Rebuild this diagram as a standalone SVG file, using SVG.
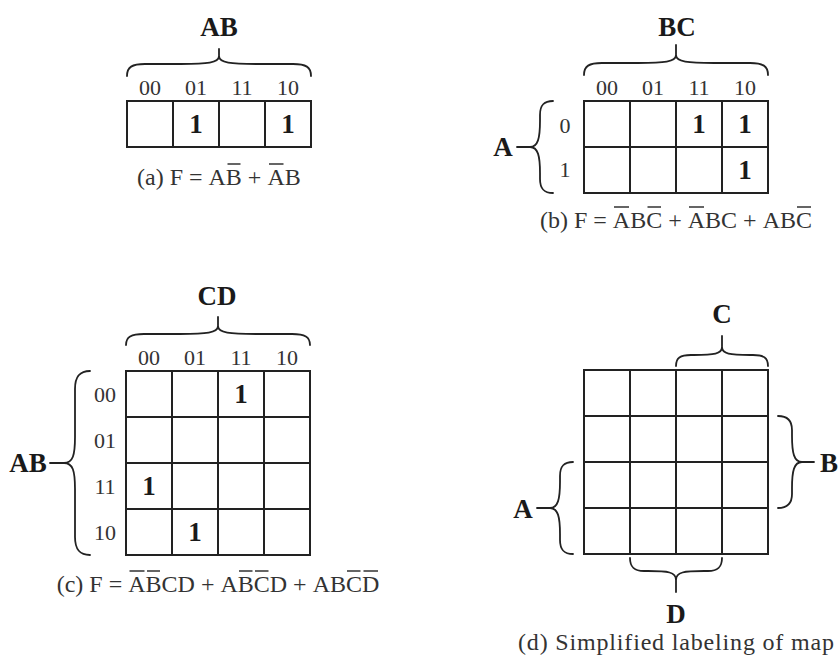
<svg xmlns="http://www.w3.org/2000/svg" width="839" height="662" viewBox="0 0 839 662">
<style>
.grid{fill:none;stroke:#222;stroke-width:2}
.brace{fill:none;stroke:#222;stroke-width:1.8;stroke-linecap:round;stroke-linejoin:round}
.lbl{font-family:"Liberation Serif","Times New Roman",serif;font-size:22px;fill:#333;text-anchor:middle}
.big{font-family:"Liberation Serif","Times New Roman",serif;font-size:27px;font-weight:bold;fill:#1a1a1a;text-anchor:middle}
.cap{font-family:"Liberation Serif","Times New Roman",serif;font-size:24px;fill:#333;font-kerning:none}
.ov{stroke:#333;stroke-width:1.3}
</style>
<rect width="839" height="662" fill="#fff"/>

<g id="map-a">
<rect class="grid" x="127" y="101" width="184" height="46"/>
<path class="grid" d="M173,101V147M219,101V147M265,101V147"/>
<text class="big" x="219" y="36">AB</text>
<text class="lbl" x="150" y="95">00</text><text class="lbl" x="196" y="95">01</text><text class="lbl" x="242" y="95">11</text><text class="lbl" x="288" y="95">10</text>
<text class="big" x="196" y="133">1</text><text class="big" x="288" y="133">1</text>
<text class="cap" x="137" y="185">(a) F = AB + AB</text>
<path class="ov" d="M227.5,164H240.5M269,164H283.5"/>
</g>

<g id="map-b">
<rect class="grid" x="584" y="101" width="184" height="92"/>
<path class="grid" d="M630,101V193M676,101V193M722,101V193M584,147H768"/>
<text class="big" x="677" y="36">BC</text>
<text class="big" x="503" y="156">A</text>
<text class="lbl" x="607" y="95">00</text><text class="lbl" x="653" y="95">01</text><text class="lbl" x="699" y="95">11</text><text class="lbl" x="745" y="95">10</text>
<text class="lbl" x="565" y="133">0</text><text class="lbl" x="565" y="177">1</text>
<text class="big" x="699" y="133">1</text><text class="big" x="745" y="133">1</text><text class="big" x="745" y="179">1</text>
<text class="cap" x="540" y="228">(b) F = ABC + ABC + ABC</text>
<path class="ov" d="M614,207H629M647.5,207H661M689,207H704M797,207H811"/>
</g>

<g id="map-c">
<rect class="grid" x="126" y="371" width="184" height="184"/>
<path class="grid" d="M172,371V555M218,371V555M264,371V555M126,417H310M126,463H310M126,509H310"/>
<text class="big" x="217" y="305">CD</text>
<text class="big" x="28" y="472">AB</text>
<text class="lbl" x="149" y="365">00</text><text class="lbl" x="195" y="365">01</text><text class="lbl" x="241" y="365">11</text><text class="lbl" x="287" y="365">10</text>
<text class="lbl" x="105" y="402">00</text><text class="lbl" x="105" y="448">01</text><text class="lbl" x="105" y="494">11</text><text class="lbl" x="105" y="540">10</text>
<text class="big" x="241" y="403">1</text><text class="big" x="149" y="495">1</text><text class="big" x="195" y="541">1</text>
<text class="cap" x="56.7" y="592">(c) F = ABCD + ABCD + ABCD</text>
<path class="ov" d="M129.5,571H144.5M147,571H160M239,571H252.5M255,571H268.5M347,571H360.5M363.5,571H378"/>
</g>

<g id="map-d">
<rect class="grid" x="584" y="370" width="184" height="184"/>
<path class="grid" d="M630,370V554M676,370V554M722,370V554M584,416H768M584,462H768M584,508H768"/>
<text class="big" x="722" y="323">C</text>
<text class="big" x="829" y="472">B</text>
<text class="big" x="523" y="518">A</text>
<text class="big" x="676" y="623">D</text>
<text class="cap" x="518" y="650" textLength="316" lengthAdjust="spacing">(d) Simplified labeling of map</text>
</g>

<g id="connectors">
<path class="brace" d="M127,76 C127,67 132,64 145,64 L181,64 C207,64 219,63 219,56 L219,49 M219,56 C219,63 231,64 257,64 L293,64 C306,64 311,67 311,76"/>
<path class="brace" d="M584,75 C584,66 589,63 602,63 L638,63 C664,63 676,62 676,55 L676,45 M676,55 C676,62 688,63 714,63 L750,63 C763,63 768,66 768,75"/>
<path class="brace" d="M553,101 C544,101 540,105 540,115 L540,121 C540,138 538,147 530,147 L517,147 M530,147 C538,147 540,156 540,173 L540,179 C540,189 544,193 553,193"/>
<path class="brace" d="M126,345 C126,337 131,334 144,334 L180,334 C206,334 218,333 218,326 L218,317 M218,326 C218,333 230,334 256,334 L292,334 C305,334 310,337 310,345"/>
<path class="brace" d="M90,371 C80,371 75,376 75,389 L75,437 C75,455 73,463 64,463 L50,463 M64,463 C73,463 75,471 75,489 L75,537 C75,550 80,555 90,555"/>
<path class="brace" d="M676,366 C676,358 680,355 691,355 L694,355 C714,355 722,354 722,347 L722,336 M722,347 C722,354 730,355 750,355 L753,355 C764,355 768,358 768,366"/>
<path class="brace" d="M778,416 C787,416 792,420 792,430 L792,436 C792,453 794,462 802,462 L814,462 M802,462 C794,462 792,471 792,488 L792,494 C792,504 787,508 778,508"/>
<path class="brace" d="M573,462 C564,462 560,466 560,476 L560,482 C560,499 558,508 550,508 L537,508 M550,508 C558,508 560,517 560,534 L560,540 C560,550 564,554 573,554"/>
<path class="brace" d="M630,558 C630,567 634,571 644,571 L648,571 C668,571 676,572 676,580 L676,592 M676,580 C676,572 684,571 704,571 L708,571 C718,571 722,567 722,558"/>
</g>
</svg>
